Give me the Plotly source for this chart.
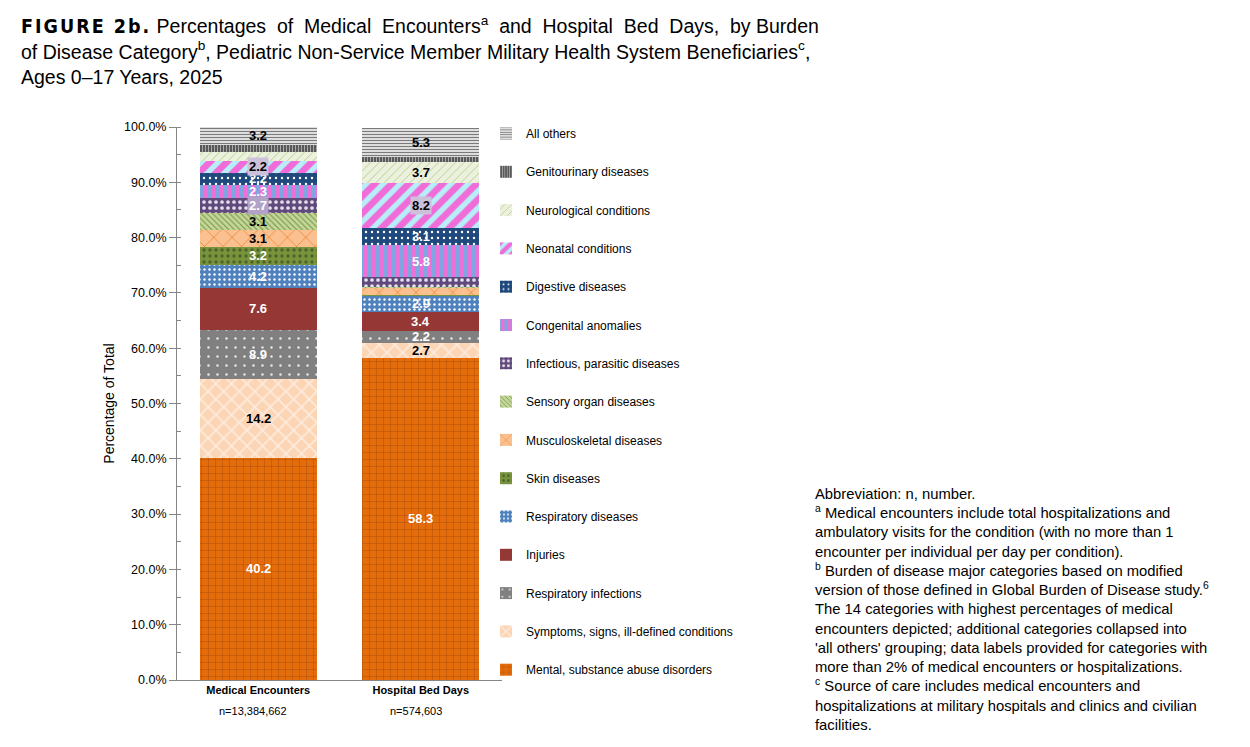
import plotly.graph_objects as go

categories = ["Medical Encounters", "Hospital Bed Days"]
n_labels = ["n=13,384,662", "n=574,603"]

series_names = [
    "Mental, substance abuse disorders",
    "Symptoms, signs, ill-defined conditions",
    "Respiratory infections",
    "Injuries",
    "Respiratory diseases",
    "Skin diseases",
    "Musculoskeletal diseases",
    "Sensory organ diseases",
    "Infectious, parasitic diseases",
    "Congenital anomalies",
    "Digestive diseases",
    "Neonatal conditions",
    "Neurological conditions",
    "Genitourinary diseases",
    "All others",
]

medical_encounters = [40.2, 14.2, 8.9, 7.6, 4.2, 3.2, 3.1, 3.1, 2.7, 2.3, 2.2, 2.2, 1.6, 1.3, 3.2]
hospital_bed_days = [58.3, 2.7, 2.2, 3.4, 2.9, 0.2, 1.2, 0.2, 1.7, 5.8, 3.1, 8.2, 3.7, 0.9, 5.3]

y_ticks = [0, 10, 20, 30, 40, 50, 60, 70, 80, 90, 100]

# style per series: (base color, pattern shape, pattern color, size, solidity, label color, label box)
styles = [
    ("#E46C0A", "+", "#A84A0C", 7, 0.12, "white", None),
    ("#FCD5B5", "x", "#FDEBDC", 11, 0.3, "black", None),
    ("#808080", ".", "#E8E8E8", 9, 0.06, "white", None),
    ("#953735", "", "#953735", 8, 0.3, "white", None),
    ("#4F81BD", ".", "#FFFFFF", 5, 0.18, "white", None),
    ("#77933C", ".", "#4F6228", 6, 0.25, "white", None),
    ("#FAC090", "x", "#E46C0A", 13, 0.08, "black", None),
    ("#C3D69B", "\\", "#77933C", 4, 0.25, "black", None),
    ("#604A7B", ".", "#E6E0EE", 6, 0.3, "white", "#B3A2C7"),
    ("#7EA6E0", "|", "#EE6FD8", 8, 0.5, "white", None),
    ("#1F497D", ".", "#FFFFFF", 6, 0.12, "white", None),
    ("#B7EEF7", "/", "#F06CD8", 12, 0.55, "black", "#CCC0DA"),
    ("#EBF1DE", "/", "#A9C46C", 6, 0.12, "black", None),
    ("#595959", "|", "#A6A6A6", 3, 0.35, "white", None),
    ("#FFFFFF", "-", "#7A7A7A", 3, 0.5, "black", None),
]

FONT = "Liberation Sans, Arial, sans-serif"

# page has an 8px body margin; figure geometry in figure pixels
W, H = 1250, 747
L, T = 169, 119
PW, PH = 325, 553
R = W - L - PW
B = H - T - PH


def px(fx):
    return (fx - L) / PW


def py(fy_top):
    return (H - fy_top - B) / PH


fig = go.Figure()
for i, name in enumerate(series_names):
    color, shape, fg, size, sol, _, _ = styles[i]
    fig.add_trace(go.Bar(
        x=categories,
        y=[medical_encounters[i], hospital_bed_days[i]],
        name=name,
        legendgroup=name,
        legendrank=100 - i,
        marker=dict(
            color=color,
            line=dict(width=0),
            pattern=dict(shape=shape, fgcolor=fg, fgopacity=1, size=size,
                         solidity=sol, fillmode="overlay"),
        ),
        hoverinfo="name+y",
    ))

# data labels (>2%)
annotations = []
for ci, vals in enumerate([medical_encounters, hospital_bed_days]):
    base = 0.0
    for i, v in enumerate(vals):
        if v > 2.0:
            _, _, _, _, _, lc, box = styles[i]
            annotations.append(dict(
                x=categories[ci], y=base + v / 2, xref="x", yref="y",
                text=f"<b>{v:.1f}</b>", showarrow=False,
                font=dict(family=FONT, size=13, color=lc),
                bgcolor=box if box else "rgba(0,0,0,0)",
                borderpad=1,
            ))
        base += v

for ci, lab in enumerate(n_labels):
    annotations.append(dict(
        x=categories[ci], y=-0.056, xref="x", yref="paper", xshift=-5,
        text=lab, showarrow=False, font=dict(family=FONT, size=11, color="black"),
        yanchor="middle",
    ))

title_text = (
    "<span style='font-family:DejaVu Sans Condensed;font-weight:bold;letter-spacing:2px'>FIGURE 2b.</span>"
    " Percentages&nbsp; of&nbsp; Medical&nbsp; Encounters<sup>a</sup>&nbsp; and&nbsp; Hospital&nbsp; Bed&nbsp; Days,&nbsp; by Burden<br>"
    "of Disease Category<sup>b</sup>, Pediatric Non-Service Member Military Health System Beneficiaries<sup>c</sup>,<br>"
    "Ages 0–17 Years, 2025"
)
annotations.append(dict(
    x=px(11), y=py(3), xref="paper", yref="paper", text=title_text, showarrow=False,
    xanchor="left", yanchor="top", align="left",
    font=dict(family=FONT, size=19.5, color="black"),
))

foot_text = (
    "Abbreviation: n, number.<br>"
    "<sup>a</sup> Medical encounters include total hospitalizations and<br>"
    "ambulatory visits for the condition (with no more than 1<br>"
    "encounter per individual per day per condition).<br>"
    "<sup>b</sup> Burden of disease major categories based on modified<br>"
    "version of those defined in Global Burden of Disease study.<sup>6</sup><br>"
    "The 14 categories with highest percentages of medical<br>"
    "encounters depicted; additional categories collapsed into<br>"
    "'all others' grouping; data labels provided for categories with<br>"
    "more than 2% of medical encounters or hospitalizations.<br>"
    "<sup>c</sup> Source of care includes medical encounters and<br>"
    "hospitalizations at military hospitals and clinics and civilian<br>"
    "facilities."
)
annotations.append(dict(
    x=px(805), y=py(476), xref="paper", yref="paper", text=foot_text, showarrow=False,
    xanchor="left", yanchor="top", align="left",
    font=dict(family=FONT, size=14.8, color="black"),
))

fig.update_layout(
    width=W, height=H,
    margin=dict(l=L, r=R, t=T, b=B),
    paper_bgcolor="white", plot_bgcolor="white",
    barmode="stack", bargap=0.28,
    font=dict(family=FONT, size=12, color="black"),
    showlegend=True,
    legend=dict(
        traceorder="grouped", tracegroupgap=19.3,
        x=px(478), xanchor="left", y=py(111), yanchor="top",
        font=dict(family=FONT, size=12, color="black"),
        bgcolor="rgba(0,0,0,0)", itemwidth=30, maxheight=700,
    ),
    annotations=annotations,
    xaxis=dict(
        tickmode="array", tickvals=categories,
        ticktext=[f"<b>{c}</b>" for c in categories],
        tickfont=dict(family=FONT, size=11, color="black"),
        showline=True, linecolor="#868686", linewidth=1,
        ticks="", range=[-0.5, 1.5],
    ),
    yaxis=dict(
        range=[0, 100], tickvals=y_ticks, ticktext=[f"{t:.1f}%" for t in y_ticks],
        tickfont=dict(family=FONT, size=12.5, color="black"),
        showline=True, linecolor="#868686", linewidth=1,
        ticks="outside", ticklen=7, tickcolor="#868686",
        showgrid=False, zeroline=False,
        minor=dict(ticks="inside", ticklen=4, tickcolor="#868686", dtick=5, showgrid=False),
        title=dict(text="Percentage of Total", font=dict(family=FONT, size=14), standoff=6),
    ),
)

fig.write_html("out.html")
